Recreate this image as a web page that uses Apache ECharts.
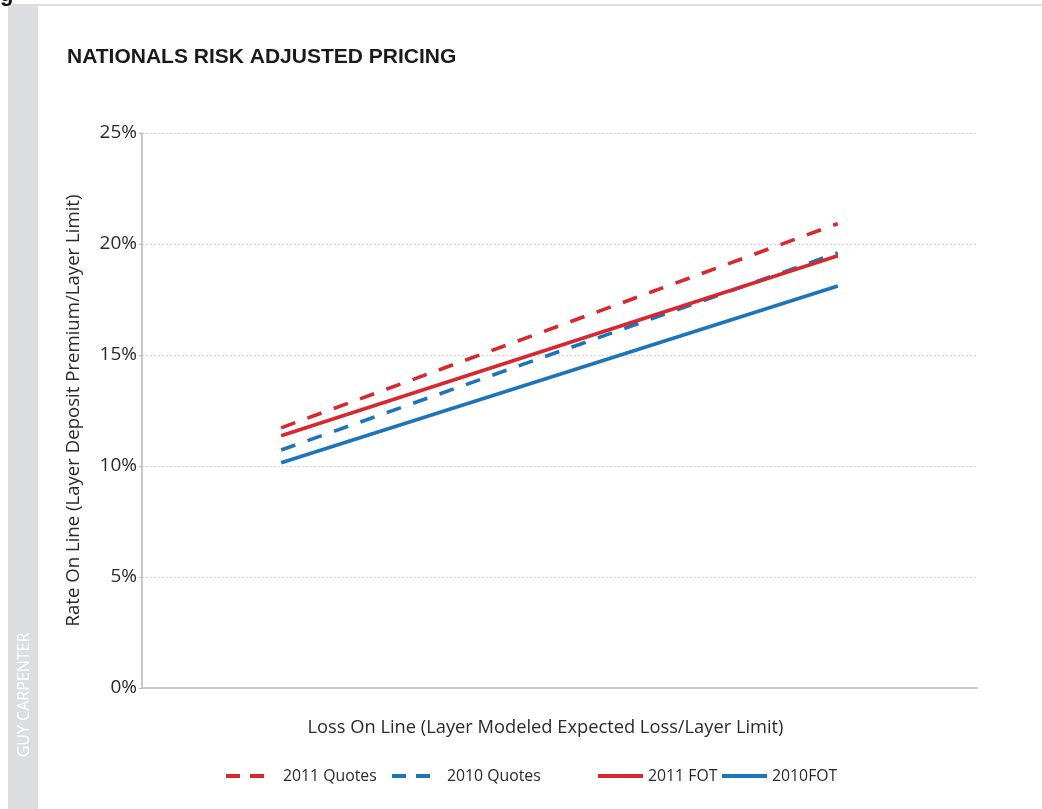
<!DOCTYPE html>
<html>
<head>
<meta charset="utf-8">
<style>
  html, body { margin: 0; padding: 0; background: #ffffff; }
  #chart { width: 1042px; height: 809px; }
</style>
<script src="https://cdn.jsdelivr.net/npm/echarts@6/dist/echarts.min.js"></script>
</head>
<body>
<div id="chart"></div>
<script>
// Loss on line (x) at the two ends of each fitted pricing line, in %
const lossOnLine = [2, 10];
// Rate on line (y) at those ends, in %
const quotes2011 = [11.72, 20.92];
const quotes2010 = [10.72, 19.6];
const fot2011 = [11.36, 19.47];
const fot2010 = [10.15, 18.11];
const seriesNames = ['2011 Quotes', '2010 Quotes', '2011 FOT', '2010FOT'];
const yTicks = [0, 5, 10, 15, 20, 25];

const RED = '#d7282f';
const BLUE = '#1c75bc';
const FONT = '"Open Sans", "Noto Sans", sans-serif';

function pairs(ys) {
  return lossOnLine.map((x, i) => [x, ys[i]]);
}

function lineSeries(name, ys, color, dashed) {
  return {
    name: name,
    type: 'line',
    data: pairs(ys),
    symbol: 'none',
    silent: true,
    lineStyle: {
      color: color,
      width: 3.6,
      type: dashed ? [15, 13] : 'solid',
      cap: 'butt'
    },
    itemStyle: { color: color }
  };
}

// one legend block per entry so each key sits where it belongs
function legendEntry(name, left, iconWidth, dash) {
  const item = { name: name, lineStyle: { width: 4, type: dash || 'solid' } };
  return {
    data: [item],
    left: left,
    top: 768,
    itemWidth: iconWidth,
    itemHeight: 16,
    padding: 0,
    selectedMode: false,
    itemStyle: { opacity: 0 },
    textStyle: { fontFamily: FONT, fontSize: 15.8, color: '#2a2a2a' }
  };
}

const chart = echarts.init(document.getElementById('chart'), null, { renderer: 'canvas' });

chart.setOption({
  animation: false,
  backgroundColor: '#ffffff',
  title: {
    text: 'NATIONALS RISK ADJUSTED PRICING',
    left: 67,
    top: 47,
    padding: 0,
    textStyle: {
      fontFamily: '"Liberation Sans", Arial, sans-serif',
      fontWeight: 'bold',
      fontSize: 21,
      color: '#1a1a1a'
    }
  },
  grid: { left: 142, right: 65, top: 133, bottom: 121, containLabel: false },
  xAxis: {
    type: 'value',
    min: 0,
    max: 12,
    name: 'Loss On Line (Layer Modeled Expected Loss/Layer Limit)',
    nameLocation: 'middle',
    nameGap: 31,
    nameTextStyle: { fontFamily: FONT, fontSize: 18.3, color: '#2a2a2a', padding: [0, 28, 0, 0] },
    axisLine: { show: true, lineStyle: { color: '#c9c9c9', width: 2 } },
    axisTick: { show: false },
    axisLabel: { show: false },
    splitLine: { show: false }
  },
  yAxis: {
    type: 'value',
    min: yTicks[0],
    max: yTicks[yTicks.length - 1],
    interval: 5,
    name: 'Rate On Line (Layer Deposit Premium/Layer Limit)',
    nameLocation: 'middle',
    nameGap: 59,
    nameTextStyle: { fontFamily: FONT, fontSize: 18.6, color: '#2a2a2a' },
    axisLine: { show: true, lineStyle: { color: '#c9c9c9', width: 2 } },
    axisTick: { show: true, length: 3, lineStyle: { color: '#bbbbbb', width: 1 } },
    axisLabel: {
      formatter: '{value}%',
      fontFamily: FONT,
      fontSize: 19,
      color: '#2a2a2a',
      margin: 5
    },
    splitLine: { show: true, lineStyle: { color: '#d4d4d4', width: 1, type: [2, 2] } }
  },
  legend: [
    legendEntry(seriesNames[0], 224, 52, [14, 10, 14, 40]),
    legendEntry(seriesNames[1], 390, 50, [14, 10, 14, 40]),
    legendEntry(seriesNames[2], 596, 45, null),
    legendEntry(seriesNames[3], 720, 45, null)
  ],
  series: [
    lineSeries(seriesNames[0], quotes2011, RED, true),
    lineSeries(seriesNames[1], quotes2010, BLUE, true),
    lineSeries(seriesNames[2], fot2011, RED, false),
    lineSeries(seriesNames[3], fot2010, BLUE, false)
  ],
  graphic: [
    // page rule across the top
    { type: 'rect', left: 10, top: 4, shape: { width: 1032, height: 2 }, style: { fill: '#dedede' }, silent: true },
    // tail of the page heading glyph above the rule
    { type: 'text', left: 0, top: -16, style: { text: 'g', fontFamily: '"Liberation Sans", Arial, sans-serif', fontWeight: 'bold', fontSize: 22, fill: '#111111' }, silent: true },
    // side band with the firm name
    { type: 'rect', left: 8, top: 6, shape: { width: 30, height: 803 }, style: { fill: '#dcdde0' }, silent: true },
    {
      type: 'text',
      x: 24,
      y: 695,
      rotation: Math.PI / 2,
      style: {
        text: 'GUY CARPENTER',
        fontFamily: FONT,
        fontSize: 16,
        fill: '#ffffff',
        align: 'center',
        verticalAlign: 'middle'
      },
      silent: true
    }
  ]
});
</script>
</body>
</html>
